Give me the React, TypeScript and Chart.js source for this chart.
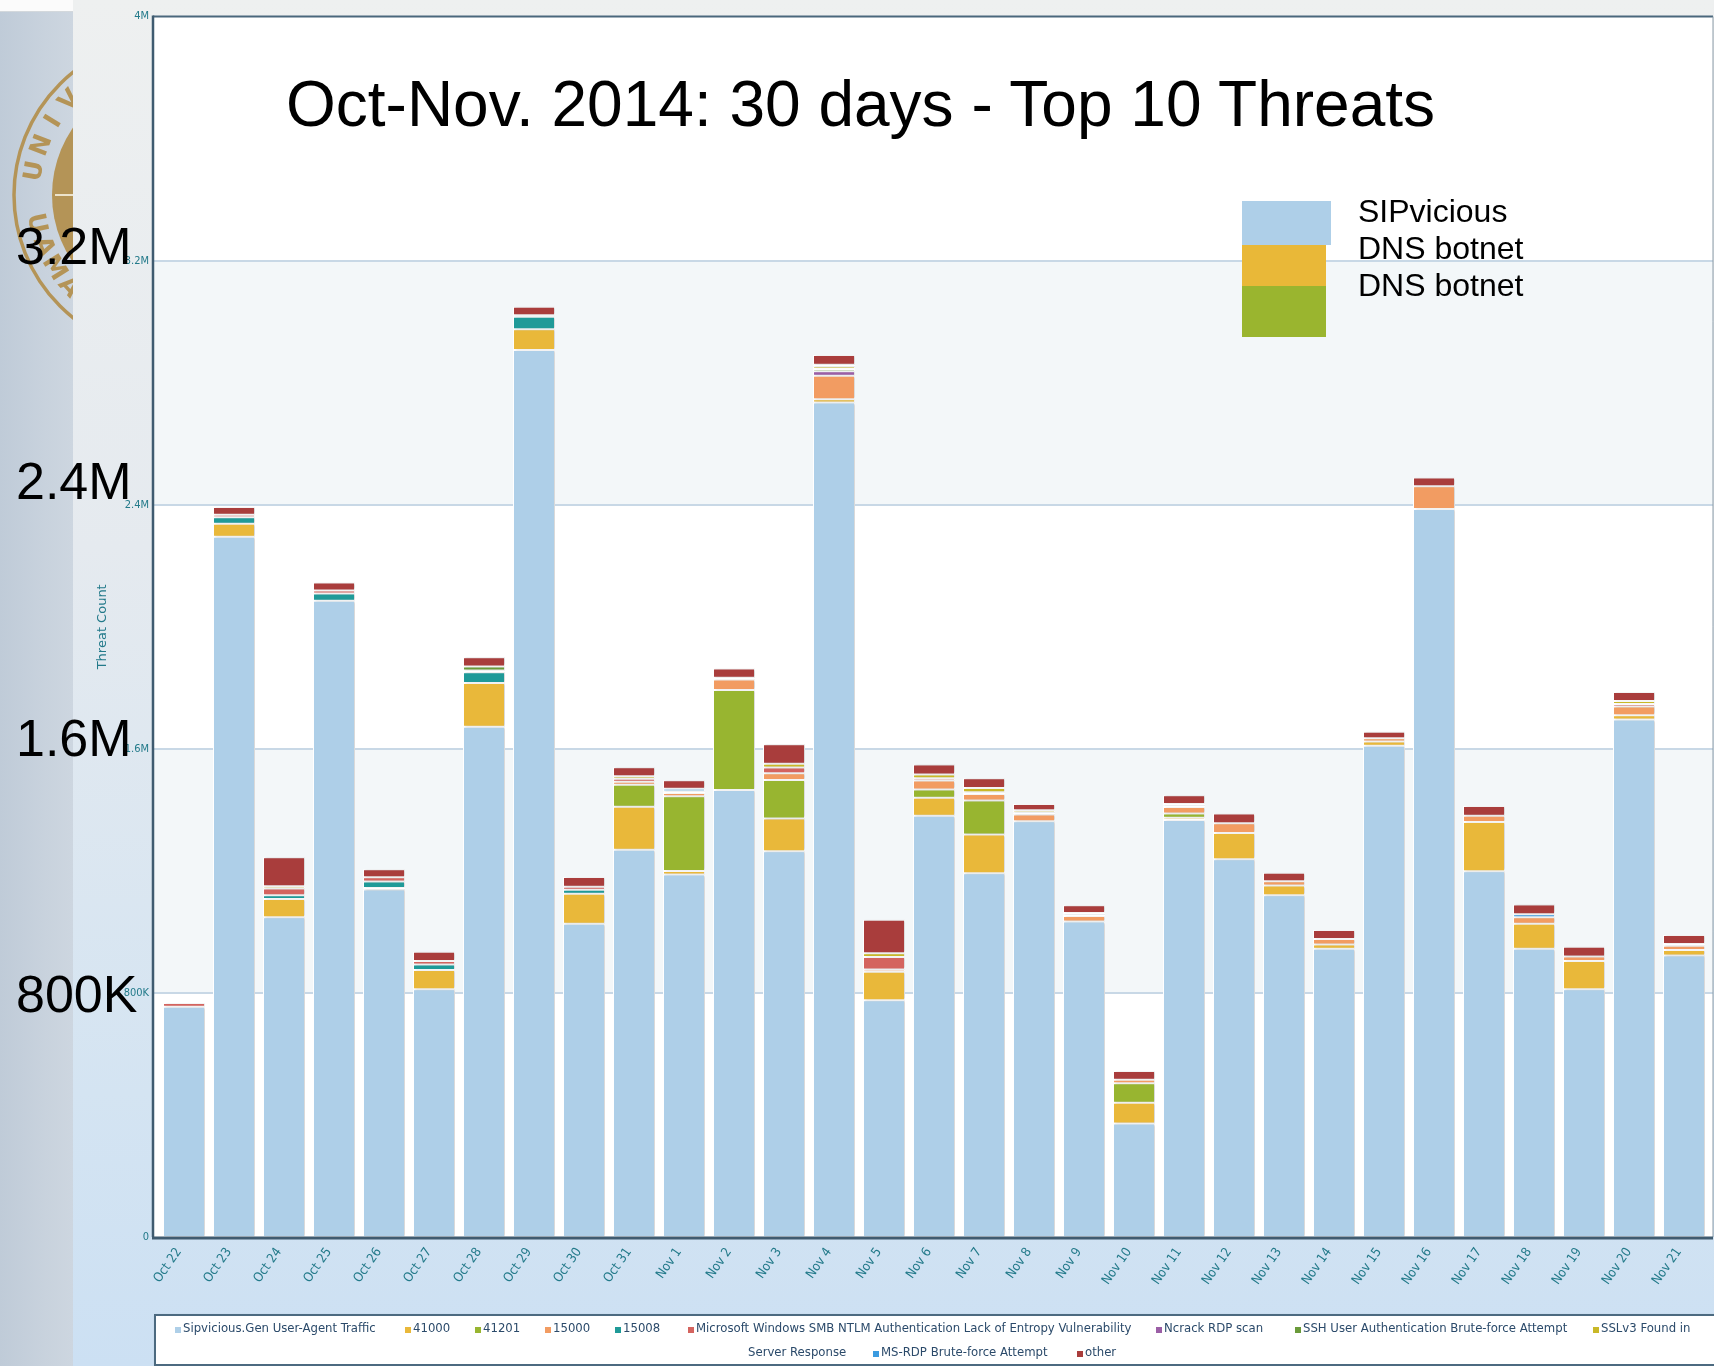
import React, { useEffect, useRef } from 'react';
import { Chart, registerables } from 'chart.js';

Chart.register(...registerables);

// ---------- data ----------
const days = [
  'Oct 22', 'Oct 23', 'Oct 24', 'Oct 25', 'Oct 26', 'Oct 27', 'Oct 28', 'Oct 29', 'Oct 30', 'Oct 31',
  'Nov 1', 'Nov 2', 'Nov 3', 'Nov 4', 'Nov 5', 'Nov 6', 'Nov 7', 'Nov 8', 'Nov 9', 'Nov 10',
  'Nov 11', 'Nov 12', 'Nov 13', 'Nov 14', 'Nov 15', 'Nov 16', 'Nov 17', 'Nov 18', 'Nov 19', 'Nov 20', 'Nov 21',
];

const yTickLabels = ['0', '800K', '1.6M', '2.4M', '3.2M', '4M'];

const sipvicious = [
  755000, 2295000, 1048000, 2085000, 1139000, 812000, 1672000, 2907000, 1027000, 1269000,
  1188000, 1465000, 1264000, 2735000, 776000, 1381000, 1192000, 1363000, 1034000, 372000,
  1367000, 1238000, 1120000, 945000, 1610000, 2386000, 1199000, 945000, 812000, 1696000, 923000,
];
const s41000 = [
  0, 43000, 60000, 0, 5000, 63000, 144000, 68000, 98000, 141000,
  12000, 0, 108000, 11000, 93000, 59000, 127000, 0, 0, 68000,
  7000, 86000, 32000, 14000, 14000, 0, 161000, 82000, 93000, 14000, 18000,
];
const s41201 = [
  0, 0, 0, 0, 0, 0, 0, 0, 0, 72000,
  245000, 328000, 126000, 0, 0, 27000, 112000, 0, 0, 64000,
  14000, 0, 0, 0, 0, 0, 0, 0, 0, 0, 0,
];
const s15000 = [
  0, 0, 0, 0, 0, 0, 0, 0, 0, 10000,
  10000, 34000, 22000, 77000, 8000, 29000, 21000, 22000, 18000, 11000,
  21000, 32000, 14000, 18000, 11000, 75000, 21000, 21000, 14000, 29000, 14000,
];
const s15008 = [
  0, 21000, 12000, 24000, 21000, 18000, 35000, 41000, 13000, 0,
  0, 0, 0, 0, 0, 0, 0, 0, 0, 0,
  0, 0, 0, 0, 0, 0, 0, 0, 0, 0, 0,
];
const smbNtlm = [
  12000, 8000, 22000, 10000, 14000, 12000, 6000, 5000, 10000, 10000,
  0, 0, 19000, 0, 41000, 8000, 6000, 6000, 5000, 0,
  5000, 0, 0, 0, 0, 0, 0, 0, 0, 8000, 5000,
];
const ncrack = [
  0, 0, 0, 0, 0, 0, 0, 0, 0, 0,
  0, 0, 0, 15000, 0, 0, 0, 0, 0, 0,
  0, 0, 0, 0, 0, 0, 0, 0, 0, 0, 0,
];
const sshBrute = [
  0, 0, 0, 0, 0, 0, 13000, 0, 0, 0,
  0, 0, 0, 7000, 0, 0, 0, 0, 0, 0,
  0, 0, 0, 0, 0, 0, 0, 0, 0, 0, 0,
];
const sslv3 = [
  0, 0, 8000, 0, 0, 0, 0, 0, 0, 8000,
  6000, 6000, 12000, 8000, 12000, 12000, 14000, 8000, 5000, 0,
  5000, 0, 0, 0, 0, 0, 0, 0, 0, 10000, 0,
];
const msRdp = [
  0, 0, 0, 0, 0, 0, 0, 0, 0, 0,
  8000, 0, 0, 6000, 0, 0, 0, 0, 0, 0,
  0, 0, 0, 0, 0, 0, 0, 10000, 0, 0, 0,
];
const other = [
  0, 26000, 95000, 26000, 26000, 30000, 30000, 28000, 32000, 30000,
  28000, 30000, 64000, 32000, 110000, 33000, 32000, 20000, 25000, 29000,
  29000, 32000, 28000, 29000, 21000, 28000, 32000, 32000, 32000, 29000, 30000,
];

const seriesNames = [
  'Sipvicious.Gen User-Agent Traffic', '41000', '41201', '15000', '15008',
  'Microsoft Windows SMB NTLM Authentication Lack of Entropy Vulnerability',
  'Ncrack RDP scan', 'SSH User Authentication Brute-force Attempt',
  'SSLv3 Found in Server Response', 'MS-RDP Brute-force Attempt', 'other',
];
const seriesValues = [sipvicious, s41000, s41201, s15000, s15008, smbNtlm, ncrack, sshBrute, sslv3, msRdp, other];
const seriesColors = [
  '#aecfe8', '#e9b83a', '#98b530', '#f29c62', '#1f9a98', '#d4645f',
  '#9b5ea6', '#6a9a3a', '#c9b828', '#3b9be0', '#a93d3c',
];

const slideTitle = 'Oct-Nov. 2014: 30 days - Top 10 Threats';
const calloutLabels = ['SIPvicious', 'DNS botnet', 'DNS botnet'];
const calloutColors = ['#aecfe8', '#e9b838', '#9ab52f'];
const bigAxisLabels = ['3.2M', '2.4M', '1.6M', '800K'];

// ---------- layout / style ----------
const W = 1714;
const H = 1366;
const TEAL = '#237a8a';
const TICK_FONT = '"DejaVu Sans Condensed", "DejaVu Sans", sans-serif';
const LEG_FONT = '"DejaVu Sans Condensed", "DejaVu Sans", sans-serif';
const ARIAL = '"Liberation Sans", Arial, sans-serif';
const GOLD = '#b49457';

const bigLabelTops = [220, 455, 712, 968];
const calloutTops = [195, 232, 269];
const calloutSwatches = [
  { left: 1242, top: 201, width: 89, height: 44 },
  { left: 1242, top: 245, width: 84, height: 41 },
  { left: 1242, top: 286, width: 84, height: 51 },
];
const legendRow1 = [
  { idx: 0, x: 175, text: 'Sipvicious.Gen User-Agent Traffic' },
  { idx: 1, x: 405, text: '41000' },
  { idx: 2, x: 475, text: '41201' },
  { idx: 3, x: 545, text: '15000' },
  { idx: 4, x: 615, text: '15008' },
  { idx: 5, x: 688, text: 'Microsoft Windows SMB NTLM Authentication Lack of Entropy Vulnerability' },
  { idx: 6, x: 1156, text: 'Ncrack RDP scan' },
  { idx: 7, x: 1295, text: 'SSH User Authentication Brute-force Attempt' },
  { idx: 8, x: 1593, text: 'SSLv3 Found in' },
];
const legendRow2 = [
  { idx: -1, x: 748, text: 'Server Response' },
  { idx: 9, x: 873, text: 'MS-RDP Brute-force Attempt' },
  { idx: 10, x: 1077, text: 'other' },
];

function drawSlideStrip(ctx: CanvasRenderingContext2D, h: number) {
  ctx.save();
  ctx.beginPath();
  ctx.rect(0, 0, 73, h);
  ctx.clip();
  const sg = ctx.createLinearGradient(0, 0, 73, 0);
  sg.addColorStop(0, '#bfcbd8');
  sg.addColorStop(0.6, '#c8d2dd');
  sg.addColorStop(1, '#cdd6e0');
  ctx.fillStyle = sg;
  ctx.fillRect(0, 0, 73, h);

  const cx = 171;
  const cy = 195;
  ctx.strokeStyle = GOLD;
  ctx.lineWidth = 3.5;
  ctx.beginPath();
  ctx.arc(cx, cy, 157, 0, Math.PI * 2);
  ctx.stroke();
  ctx.fillStyle = GOLD;
  ctx.beginPath();
  ctx.arc(cx, cy, 119, 0, Math.PI * 2);
  ctx.fill();
  ctx.strokeStyle = '#ece3cc';
  ctx.lineWidth = 2;
  ctx.beginPath();
  ctx.moveTo(cx - 116, cy);
  ctx.lineTo(cx, cy);
  ctx.stroke();

  ctx.fillStyle = GOLD;
  ctx.font = 'bold 25px "DejaVu Sans", sans-serif';
  ctx.textAlign = 'center';
  ctx.textBaseline = 'middle';
  const topText = 'UNIVERSITY';
  for (let i = 0; i < topText.length; i++) {
    const a = ((190 + i * 11) * Math.PI) / 180;
    ctx.save();
    ctx.translate(cx + 138 * Math.cos(a), cy + 138 * Math.sin(a));
    ctx.rotate(a + Math.PI / 2);
    ctx.fillText(topText[i], 0, 0);
    ctx.restore();
  }
  const botText = 'UAMAU';
  for (let i = 0; i < botText.length; i++) {
    const a = ((168 - i * 10) * Math.PI) / 180;
    ctx.save();
    ctx.translate(cx + 138 * Math.cos(a), cy + 138 * Math.sin(a));
    ctx.rotate(a - Math.PI / 2);
    ctx.fillText(botText[i], 0, 0);
    ctx.restore();
  }
  ctx.fillStyle = '#fbfbfb';
  ctx.fillRect(0, 0, 73, 11);
  ctx.fillStyle = '#d3d8dc';
  ctx.fillRect(0, 11, 73, 1);
  ctx.restore();
}

const backgroundPlugin = {
  id: 'slideBackground',
  beforeDraw(chart: any) {
    const { ctx, width, height, chartArea } = chart;
    const y = chart.scales.y;
    ctx.save();
    const g = ctx.createLinearGradient(0, 0, 0, height);
    g.addColorStop(0, '#eef0f0');
    g.addColorStop(0.4, '#e5eaef');
    g.addColorStop(0.8, '#d4e4f2');
    g.addColorStop(1, '#cce0f3');
    ctx.fillStyle = g;
    ctx.fillRect(0, 0, width, height);
    drawSlideStrip(ctx, height);

    const fl = chartArea.left - 6;
    const fr = chartArea.right + 4;
    ctx.fillStyle = '#ffffff';
    ctx.fillRect(fl, chartArea.top, fr - fl, chartArea.bottom - chartArea.top);
    const ticks = y.ticks.map((t: any) => t.value);
    for (let i = 0; i < ticks.length - 1; i++) {
      if (i % 2 === 1) {
        const y0 = y.getPixelForValue(ticks[i]);
        const y1 = y.getPixelForValue(ticks[i + 1]);
        ctx.fillStyle = '#f3f7f9';
        ctx.fillRect(fl, y1, fr - fl, y0 - y1);
      }
    }
    ctx.strokeStyle = '#c8d8e6';
    ctx.lineWidth = 2;
    for (let i = 1; i < ticks.length - 1; i++) {
      const py = Math.round(y.getPixelForValue(ticks[i]));
      ctx.beginPath();
      ctx.moveTo(fl, py);
      ctx.lineTo(fr, py);
      ctx.stroke();
    }
    ctx.restore();
  },
  beforeDatasetsDraw(chart: any) {
    const ctx = chart.ctx;
    ctx.save();
    ctx.shadowColor = 'rgba(0,0,0,0.16)';
    ctx.shadowBlur = 2;
    ctx.shadowOffsetX = 2;
    ctx.shadowOffsetY = 0;
  },
  afterDatasetsDraw(chart: any) {
    const { ctx, chartArea } = chart;
    ctx.restore();
    const fl = chartArea.left - 6;
    const fr = chartArea.right + 4;
    ctx.save();
    ctx.strokeStyle = '#4a677c';
    ctx.lineWidth = 2;
    ctx.beginPath();
    ctx.moveTo(fl, chartArea.top);
    ctx.lineTo(fr, chartArea.top);
    ctx.stroke();
    ctx.strokeStyle = '#8c9ca8';
    ctx.lineWidth = 1;
    ctx.beginPath();
    ctx.moveTo(fr, chartArea.top);
    ctx.lineTo(fr, chartArea.bottom);
    ctx.stroke();
    ctx.strokeStyle = '#3f5b70';
    ctx.lineWidth = 2.5;
    ctx.beginPath();
    ctx.moveTo(fl, chartArea.top - 1);
    ctx.lineTo(fl, chartArea.bottom);
    ctx.stroke();
    ctx.lineWidth = 3;
    ctx.beginPath();
    ctx.moveTo(fl - 1, chartArea.bottom + 1);
    ctx.lineTo(fr, chartArea.bottom + 1);
    ctx.stroke();
    ctx.restore();
  },
};

export default function App() {
  const canvasRef = useRef<HTMLCanvasElement>(null);

  useEffect(() => {
    const canvas = canvasRef.current;
    if (!canvas) return;
    const chart = new Chart(canvas, {
      type: 'bar',
      data: {
        labels: days,
        datasets: seriesNames.map((name, i) => ({
          label: name,
          data: seriesValues[i],
          backgroundColor: seriesColors[i],
          borderColor: '#ffffff',
          borderWidth: 1,
          borderSkipped: false,
          barPercentage: 0.84,
          categoryPercentage: 1,
        })),
      },
      options: {
        responsive: false,
        animation: false,
        devicePixelRatio: 1,
        layout: { padding: { left: 0, top: 15, right: 5, bottom: 0 } },
        plugins: {
          legend: { display: false },
          tooltip: { enabled: false },
          title: { display: false },
        },
        scales: {
          x: {
            stacked: true,
            grid: { display: false, drawTicks: false },
            border: { display: false },
            ticks: {
              autoSkip: false,
              minRotation: 55,
              maxRotation: 55,
              color: TEAL,
              padding: 8,
              labelOffset: -5,
              font: { family: TICK_FONT, size: 13 },
            },
            afterFit(scale: any) {
              scale.height = 129;
            },
          },
          y: {
            stacked: true,
            min: 0,
            max: 4000000,
            grid: { display: false, drawTicks: false },
            border: { display: false },
            ticks: {
              stepSize: 800000,
              color: TEAL,
              padding: 10,
              font: { family: TICK_FONT, size: 11 },
              callback: (v: any) => yTickLabels[Math.round(Number(v) / 800000)],
            },
            title: {
              display: true,
              text: 'Threat Count',
              color: TEAL,
              font: { family: '"DejaVu Sans", sans-serif', size: 13 },
              padding: { top: 95, bottom: 0 },
            },
            afterFit(scale: any) {
              scale.width = 159;
            },
          },
        },
      },
      plugins: [backgroundPlugin],
    });
    return () => chart.destroy();
  }, []);

  const abs = (s: React.CSSProperties): React.CSSProperties => ({ position: 'absolute', ...s });

  return (
    <div style={{ position: 'absolute', left: 0, top: 0, width: W, height: H, overflow: 'hidden' }}>
      <canvas ref={canvasRef} width={W} height={H} style={{ display: 'block', width: W, height: H }} />

      <div style={abs({ left: 286, top: 72, fontFamily: ARIAL, fontSize: 64, lineHeight: '64px', color: '#000', whiteSpace: 'nowrap' })}>
        {slideTitle}
      </div>

      {calloutSwatches.map((s, i) => (
        <div key={'sw' + i} style={abs({ left: s.left, top: s.top, width: s.width, height: s.height, background: calloutColors[i] })} />
      ))}
      {calloutLabels.map((t, i) => (
        <div key={'cl' + i} style={abs({ left: 1358, top: calloutTops[i], fontFamily: ARIAL, fontSize: 32, lineHeight: '32px', color: '#000', whiteSpace: 'nowrap' })}>
          {t}
        </div>
      ))}

      {bigAxisLabels.map((t, i) => (
        <div key={'bl' + i} style={abs({ left: 16, top: bigLabelTops[i], fontFamily: ARIAL, fontSize: 52, lineHeight: '52px', color: '#000', whiteSpace: 'nowrap' })}>
          {t}
        </div>
      ))}

      <div style={abs({ left: 154, top: 1314, width: 1580, height: 48, background: '#fff', border: '2px solid #4c6a80', boxShadow: '1px 1px 2px rgba(0,0,0,0.25)' })} />
      {[legendRow1, legendRow2].map((row, r) =>
        row.map((it, k) => (
          <div key={'lg' + r + '-' + k} style={abs({ left: it.x, top: r === 0 ? 1321 : 1345, height: 14, display: 'flex', alignItems: 'center', whiteSpace: 'nowrap' })}>
            {it.idx >= 0 && (
              <span style={{ display: 'inline-block', width: 6, height: 6, marginTop: 3, marginRight: 2, background: seriesColors[it.idx] }} />
            )}
            <span style={{ fontFamily: LEG_FONT, fontSize: 13, lineHeight: '14px', color: '#2b4a6a' }}>{it.text}</span>
          </div>
        )),
      )}
    </div>
  );
}
